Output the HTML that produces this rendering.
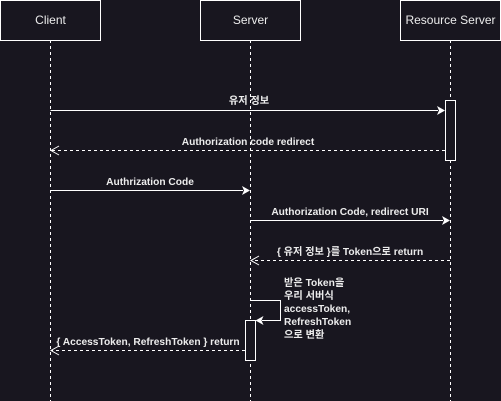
<!DOCTYPE html>
<html><head><meta charset="utf-8"><style>
html,body{margin:0;padding:0;background:#18161f;}
svg{display:block}
text{font-family:"Liberation Sans","Noto Sans CJK KR",sans-serif;fill:#ececec;}
.m{font-size:10.2px;font-weight:bold;}
</style></head><body>
<svg width="501" height="401" viewBox="0 0 501 401" xmlns="http://www.w3.org/2000/svg">
<rect width="501" height="401" fill="#18161f"/>
<g stroke="#fff" stroke-width="1" fill="none" stroke-dasharray="3,3">
<line x1="50.5" y1="40" x2="50.5" y2="401"/>
<line x1="250.5" y1="40" x2="250.5" y2="401"/>
<line x1="450.5" y1="40" x2="450.5" y2="401"/>
</g>
<g stroke="#fff" stroke-width="1" fill="#18161f">
<rect x="0.5" y="0.5" width="100" height="40"/>
<rect x="200.5" y="0.5" width="100" height="40"/>
<rect x="400.5" y="0.5" width="100" height="40"/>
<rect x="445.5" y="100.5" width="10" height="60"/>
<rect x="245.5" y="320.5" width="10" height="40"/>
</g>
<g font-size="12" text-anchor="middle">
<text x="50.5" y="24">Client</text>
<text x="250.5" y="24">Server</text>
<text x="450.5" y="24">Resource Server</text>
</g>
<g stroke="#fff" stroke-width="1" fill="none">
<line x1="50.5" y1="110.5" x2="438" y2="110.5"/>
<line x1="50.5" y1="190.5" x2="243" y2="190.5"/>
<line x1="250.5" y1="220.5" x2="443" y2="220.5"/>
<polyline points="250.5,300.5 280.5,300.5 280.5,320.5 262,320.5"/>
</g>
<g fill="#fff">
<polygon points="445,110.5 437,106 439,110.5 437,115"/>
<polygon points="250,190.5 242,186 244,190.5 242,195"/>
<polygon points="450,220.5 442,216 444,220.5 442,225"/>
<polygon points="255.5,320.5 263.5,316 261.5,320.5 263.5,325"/>
</g>
<g stroke="#fff" stroke-width="1" fill="none">
<line x1="445" y1="150.5" x2="52" y2="150.5" stroke-dasharray="3,3"/>
<polyline points="59,146 51,150.5 59,155"/>
<line x1="450" y1="260.5" x2="252" y2="260.5" stroke-dasharray="3,3"/>
<polyline points="259,256 251,260.5 259,265"/>
<line x1="245" y1="350.5" x2="52" y2="350.5" stroke-dasharray="3,3"/>
<polyline points="59,346 51,350.5 59,355"/>
</g>
<g text-anchor="middle">
<text x="249" y="104" class="m">유저 정보</text>
<text x="248" y="145" class="m">Authorization code redirect</text>
<text x="150" y="185" class="m">Authrization Code</text>
<text x="350" y="215" class="m">Authorization Code, redirect URI</text>
<text x="350" y="255" class="m">{ 유저 정보 }를  Token으로 return</text>
<text x="148" y="345" class="m">{ AccessToken, RefreshToken } return</text>
</g>
<g>
<text x="284" y="286" class="m">받은 Token을</text>
<text x="284" y="299" class="m">우리 서버식</text>
<text x="284" y="312" class="m">accessToken,</text>
<text x="284" y="325" class="m">RefreshToken</text>
<text x="284" y="338" class="m">으로 변환</text>
</g>
</svg>
</body></html>
